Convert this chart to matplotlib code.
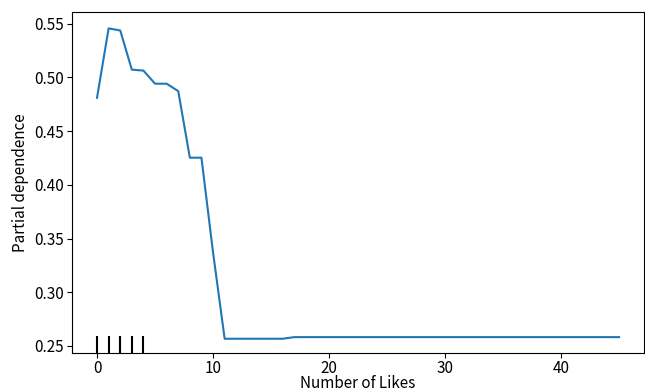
import matplotlib
matplotlib.use('Agg')
import matplotlib.pyplot as plt
import numpy as np

# Partial dependence of the model output on the number of likes
likes = [0, 1, 2, 3, 4, 5, 6, 7, 8, 9, 10, 11, 16, 17, 45]
dependence = [0.4811, 0.5457, 0.5438, 0.5073, 0.5064, 0.4942, 0.4942, 0.4873,
              0.4253, 0.4253, 0.3370, 0.2567, 0.2567, 0.2582, 0.2582]
# deciles of the feature, drawn as a rug at the bottom
deciles = [0, 1, 2, 3, 4]

plt.rcParams['font.family'] = ['Noto Sans CJK JP', 'DejaVu Sans']
plt.rcParams['font.size'] = 11

fig = plt.figure(figsize=(6.45, 3.91), dpi=100)
ax = fig.add_axes([71.5 / 645, 1 - 352.7 / 391, (643.5 - 71.5) / 645, (352.7 - 12.3) / 391])

ax.plot(likes, dependence, color='tab:blue', lw=1.5)
ax.set_ylim(0.2437, 0.5607)
ax.set_xlim(-2.2, 47.1)

trans = ax.get_xaxis_transform()
ax.vlines(deciles, 0, 0.05, transform=trans, color='k', lw=1.5)

ax.set_xticks([0, 10, 20, 30, 40])
ax.set_yticks(np.arange(0.25, 0.551, 0.05))
ax.yaxis.set_major_formatter(matplotlib.ticker.FormatStrFormatter('%.2f'))
ax.tick_params(axis='x', pad=1.5)
ax.tick_params(axis='y', pad=2)

ax.set_xlabel('Number of Likes', labelpad=-1)
ax.set_ylabel('Partial dependence', labelpad=4)

fig.savefig('out.png', dpi=100)
